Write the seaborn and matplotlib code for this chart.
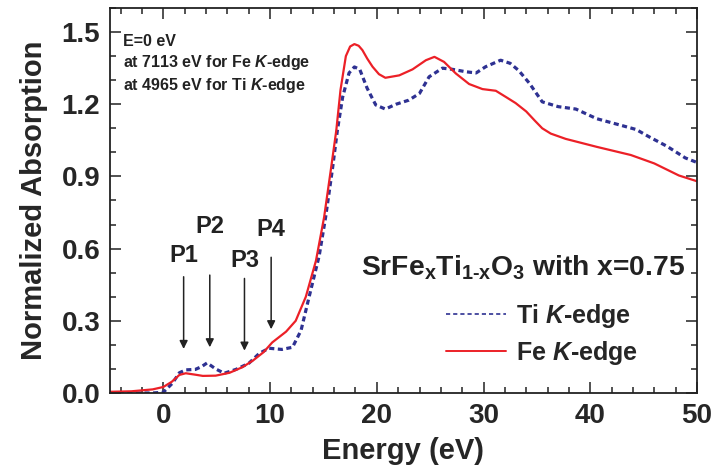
import matplotlib
matplotlib.use("Agg")
import matplotlib.pyplot as plt
from matplotlib.lines import Line2D
from matplotlib.ticker import MultipleLocator
import numpy as np
import pandas as pd
import seaborn as sns

# Energy relative to the edge (eV) and normalized absorption, Fe K-edge
fe_energy = [-5, -3, -1, 0, 0.8, 1.5, 2.1, 3.0, 3.7, 4.9, 6.2, 7.4, 8.4, 9.4, 10.2,
             11.5, 12.4, 13.35, 14.3, 15.06, 15.7, 16.2, 16.6, 17.1, 17.5, 17.9, 18.3,
             18.65, 19.1, 19.6, 20.2, 20.8, 22.1, 23.35, 24.6, 25.4, 26.3, 27.4, 28.65,
             29.9, 31.15, 32.1, 33.0, 34.0, 34.8, 35.5, 36.3, 37.7, 40.6, 43.8, 46.0,
             48.3, 50]
fe_absorption = [0.005, 0.007, 0.015, 0.025, 0.047, 0.075, 0.082, 0.076, 0.071, 0.072,
                 0.084, 0.107, 0.135, 0.17, 0.21, 0.255, 0.30, 0.40, 0.55, 0.73, 0.93,
                 1.09, 1.26, 1.40, 1.44, 1.45, 1.443, 1.425, 1.39, 1.356, 1.325, 1.31,
                 1.32, 1.345, 1.383, 1.397, 1.376, 1.328, 1.284, 1.263, 1.256, 1.23,
                 1.205, 1.17, 1.132, 1.10, 1.078, 1.056, 1.023, 0.989, 0.954, 0.904,
                 0.88]

# Ti K-edge
ti_energy = [-5, -1, 0, 0.84, 1.5, 2.1, 3.0, 3.6, 4.1, 4.9, 5.7, 6.8, 8.0, 9.0, 9.9,
             11.1, 12.1, 12.9, 13.66, 14.6, 15.2, 15.84, 16.3, 16.8, 17.4, 17.9, 18.4,
             19.1, 19.9, 20.8, 21.8, 23.0, 24.0, 24.9, 26.15, 27.1, 28.35, 29.3, 30.2,
             31.6, 32.5, 33.3, 34.3, 35.5, 37.0, 38.65, 40.6, 43.0, 44.3, 45.5, 47.2,
             48.9, 50]
ti_absorption = [0.0, 0.0, 0.003, 0.04, 0.084, 0.096, 0.098, 0.11, 0.125, 0.10, 0.082,
                 0.098, 0.123, 0.165, 0.186, 0.181, 0.19, 0.26, 0.40, 0.57, 0.73, 0.93,
                 1.09, 1.23, 1.33, 1.355, 1.345, 1.266, 1.197, 1.18, 1.20, 1.217, 1.245,
                 1.314, 1.35, 1.345, 1.335, 1.33, 1.356, 1.383, 1.37, 1.34, 1.287, 1.21,
                 1.19, 1.18, 1.14, 1.111, 1.095, 1.065, 1.025, 0.977, 0.958]

# Pre-edge feature markers: label, energy, arrow top, arrow tip, label position
peak_labels = ["P1", "P2", "P3", "P4"]
peak_energy = [1.9, 4.35, 7.6, 10.1]
arrow_top = [0.483, 0.49, 0.476, 0.564]
arrow_tip = [0.183, 0.19, 0.176, 0.265]
label_y = [0.57, 0.69, 0.55, 0.68]

FE_RED = "#ec2027"
TI_BLUE = "#2e3192"

sns.set_theme(style="ticks")
plt.rcParams["font.family"] = ["Liberation Sans", "DejaVu Sans"]
plt.rcParams["font.weight"] = "bold"
plt.rcParams["mathtext.fontset"] = "custom"
plt.rcParams["mathtext.rm"] = "Liberation Sans:bold"
plt.rcParams["mathtext.it"] = "Liberation Sans:bold:italic"
plt.rcParams["mathtext.bf"] = "Liberation Sans:bold"

fig = plt.figure(figsize=(7.11, 4.76), dpi=100)
ax = fig.add_axes([0.1547, 0.1744, 0.8256, 0.8088])

ti = pd.DataFrame({"energy": ti_energy, "absorption": ti_absorption})
fe = pd.DataFrame({"energy": fe_energy, "absorption": fe_absorption})

sns.lineplot(data=ti, x="energy", y="absorption", ax=ax, color=TI_BLUE,
             lw=2.3, dashes=(1.6, 1.1), sort=False, estimator=None)
sns.lineplot(data=fe, x="energy", y="absorption", ax=ax, color=FE_RED,
             lw=1.6, sort=False, estimator=None)

ax.set_xlim(-5, 50)
ax.set_ylim(0, 1.6)
ax.xaxis.set_major_locator(MultipleLocator(10))
ax.xaxis.set_minor_locator(MultipleLocator(2))
ax.yaxis.set_major_locator(MultipleLocator(0.3))
ax.yaxis.set_minor_locator(MultipleLocator(0.1))
ax.yaxis.set_major_formatter(matplotlib.ticker.FormatStrFormatter("%.1f"))
ax.tick_params(which="both", direction="in", top=True, right=True,
               labelsize=20, width=1.1, color="#222222", pad=7)
ax.tick_params(which="major", length=8)
ax.tick_params(which="minor", length=4)
for side in ax.spines.values():
    side.set_linewidth(1.3)
    side.set_color("#222222")
    side.set_visible(True)
for lbl in ax.get_xticklabels() + ax.get_yticklabels():
    lbl.set_fontweight("bold")

ax.set_xlabel("Energy (eV)", fontsize=21, fontweight="bold", labelpad=6)
ax.set_ylabel("Normalized Absorption", fontsize=21, fontweight="bold", labelpad=10)

# Arrows for the pre-edge features
for name, e, top, tip, ly in zip(peak_labels, peak_energy, arrow_top, arrow_tip, label_y):
    ax.annotate("", xy=(e, tip), xytext=(e, top),
                arrowprops=dict(arrowstyle="-|>", color="#222222", lw=1.1,
                                mutation_scale=12, shrinkA=0, shrinkB=0))
    ax.text(e, ly, name, fontsize=17, fontweight="bold", ha="center",
            va="center", color="#222222")

# Energy reference note
ax.text(-3.8, 1.44, "E=0 eV", fontsize=11.5, fontweight="bold", color="#222222")
ax.text(-3.8, 1.355, "at 7113 eV for Fe $K$-edge", fontsize=11.5,
        fontweight="bold", color="#222222")
ax.text(-3.8, 1.26, "at 4965 eV for Ti $K$-edge", fontsize=11.5,
        fontweight="bold", color="#222222")

ax.text(18.5, 0.49, r"$\mathrm{SrFe_xTi_{1\text{-}x}O_3}$ with x=0.75", fontsize=20.3,
        fontweight="bold", color="#222222")

handles = [Line2D([], [], color=TI_BLUE, lw=1.2, ls=(0, (2.5, 1.8))),
           Line2D([], [], color=FE_RED, lw=1.4)]
ax.legend(handles, ["Ti $K$-edge", "Fe $K$-edge"], loc="upper left",
          bbox_to_anchor=(0.555, 0.262), frameon=False,
          handlelength=2.4, handletextpad=0.4, labelspacing=0.35,
          borderaxespad=0, prop={"weight": "bold", "size": 18})

fig.savefig("out.png", dpi=100)
